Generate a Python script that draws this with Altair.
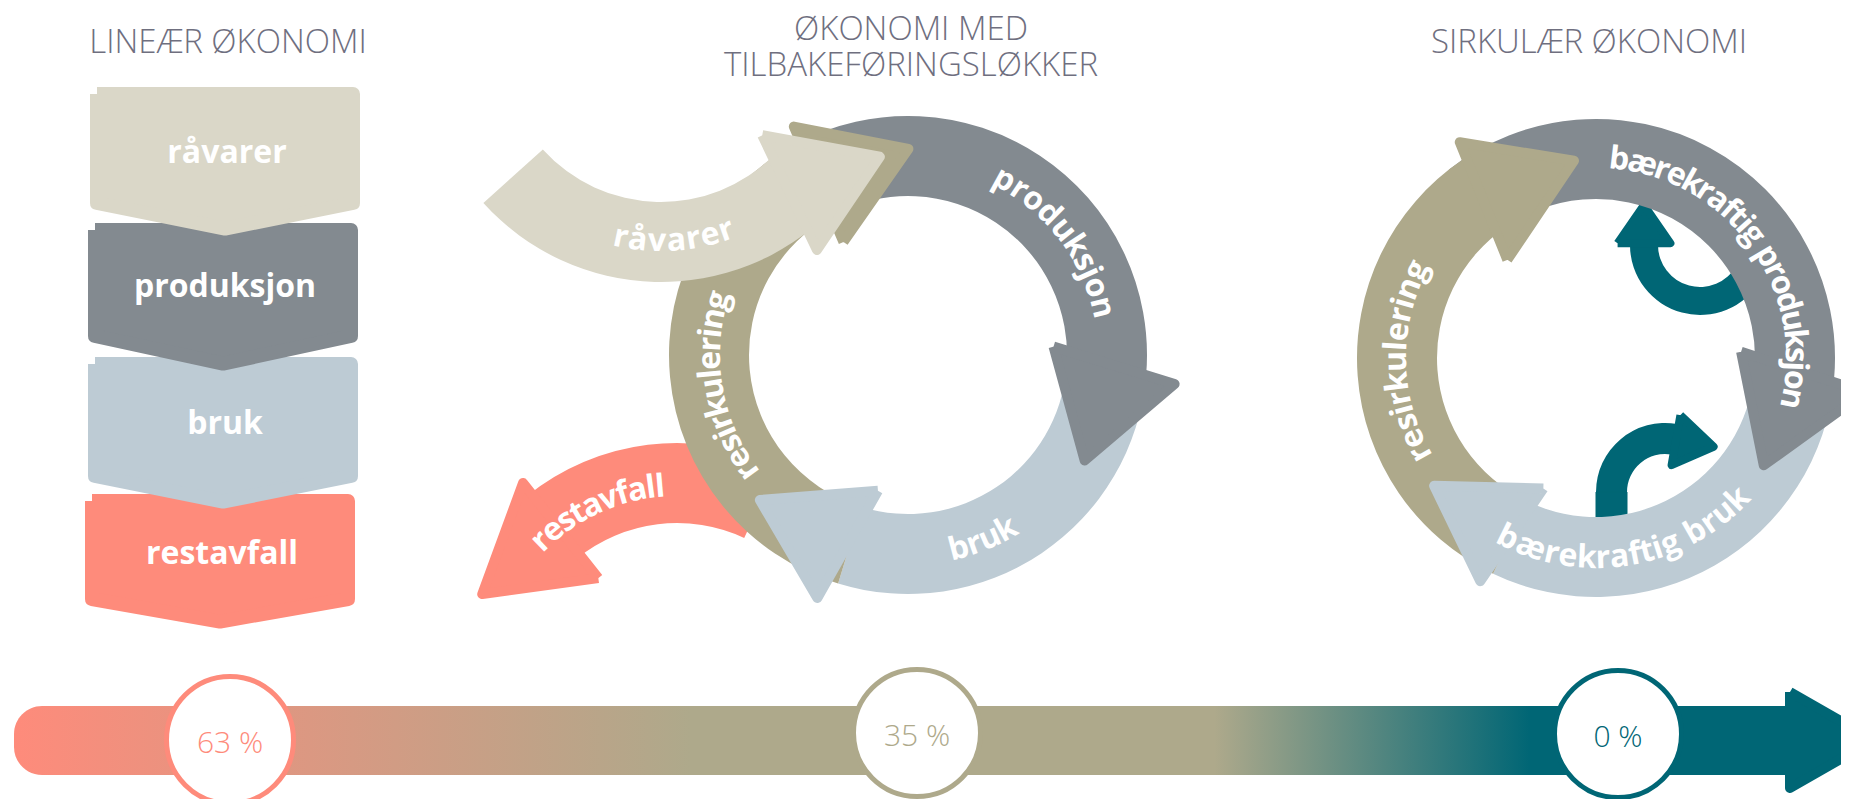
import math
import altair as alt
import pandas as pd

# ---------------- chart values ----------------
titles = ["LINEÆR ØKONOMI", "ØKONOMI MED\nTILBAKEFØRINGSLØKKER", "SIRKULÆR ØKONOMI"]
linear_steps = ["råvarer", "produksjon", "bruk", "restavfall"]
loop_stages = ["produksjon", "bruk", "resirkulering"]
loop_in = "råvarer"
loop_out = "restavfall"
circular_stages = ["bærekraftig produksjon", "bærekraftig bruk", "resirkulering"]
residual_waste = [63, 35, 0]          # percent restavfall
pct_labels = [f"{v} %" for v in residual_waste]

# ---------------- colours ----------------
BEIGE, GRAY, BLUE, SALMON = "#dad7c8", "#838a90", "#bdcbd4", "#fe8b7b"
OLIVE, TEAL, TITLE = "#aea98b", "#006675", "#6f6f7f"
FONT = "Open Sans"

# ---------------- layout ----------------
W, H = 1833, 791
OX = OY = 8
XS = alt.Scale(domain=[OX, OX + W], nice=False, zero=False)
YS = alt.Scale(domain=[OY, OY + H], nice=False, zero=False, reverse=True)


def X(f="x"):
    return alt.X(f"{f}:Q", scale=XS, axis=None)


def Y(f="y"):
    return alt.Y(f"{f}:Q", scale=YS, axis=None)


def polar(c, th, r):
    t = math.radians(th)
    return (c[0] + r * math.sin(t), c[1] - r * math.cos(t))


def inset(pts, d):
    cx = sum(p[0] for p in pts) / len(pts)
    cy = sum(p[1] for p in pts) / len(pts)
    out = []
    for x, y in pts:
        dx, dy = cx - x, cy - y
        n = math.hypot(dx, dy)
        out.append((x + dx / n * d, y + dy / n * d))
    return out


layers = []


def add_poly(pts, color, sw=10, shrink=True):
    if shrink:
        pts = inset(pts, sw / 2)
    rows = [{"k": i, "x": x, "y": y} for i, (x, y) in enumerate(pts + [pts[0]])]
    layers.append(
        alt.Chart(pd.DataFrame(rows))
        .mark_line(fill=color, stroke=color, strokeWidth=sw, strokeJoin="round")
        .encode(x=X(), y=Y(), order=alt.Order("k:Q"))
    )


def add_arcs(c, segs, r_out, r_in):
    rows = [{"cx": c[0], "cy": c[1], "t0": math.radians(a), "t1": math.radians(b), "col": col}
            for a, b, col in segs]
    layers.append(
        alt.Chart(pd.DataFrame(rows))
        .mark_arc(radius=r_out, radius2=r_in)
        .encode(x=X("cx"), y=Y("cy"),
                theta=alt.Theta("t0:Q", scale=None, stack=False),
                theta2=alt.Theta2("t1:Q"),
                color=alt.Color("col:N", scale=None))
    )


def polar_poly(c, verts):
    return [polar(c, th, r) for th, r in verts]


def arrow_tip(c, th, rm, hw, L):
    t = math.radians(th)
    u = (math.sin(t), -math.cos(t))
    tg = (math.cos(t), math.sin(t))
    b = (c[0] + rm * u[0], c[1] + rm * u[1])
    return [(b[0] + hw * u[0], b[1] + hw * u[1]),
            (b[0] + L * tg[0], b[1] + L * tg[1]),
            (b[0] - hw * u[0], b[1] - hw * u[1])]


CW = {"a": .60, "b": .63, "d": .63, "e": .59, "f": .37, "g": .56, "i": .29, "j": .29,
      "k": .58, "l": .29, "n": .64, "o": .61, "p": .63, "r": .43, "s": .48, "t": .40,
      "u": .64, "v": .56, "æ": .93, "å": .60, " ": .26}
arc_rows = []


def arc_text(label, c, th_first, th_last, r, inward=False):
    ws = [CW.get(ch, .58) for ch in label]
    cum, s = [], 0
    for w in ws:
        cum.append(s + w / 2)
        s += w
    span = cum[-1] - cum[0]
    for ch, p in zip(label, cum):
        if ch == " ":
            continue
        th = th_first + (th_last - th_first) * (p - cum[0]) / span
        x, y = polar(c, th, r)
        rot = (th - 180) if inward else th
        arc_rows.append({"x": x, "y": y, "t": ch, "rot": rot % 360})


# ---------- bottom progress bar ----------
bar = pd.DataFrame([{"x": 14, "x2": 1795, "y": 706, "y2": 775}])
grad = alt.Gradient(
    gradient="linear",
    stops=[alt.GradientStop(color=SALMON, offset=0),
           alt.GradientStop(color=OLIVE, offset=0.38),
           alt.GradientStop(color=OLIVE, offset=0.674),
           alt.GradientStop(color=TEAL, offset=0.851),
           alt.GradientStop(color=TEAL, offset=1)],
    x1=0, x2=1, y1=0, y2=0)
layers.append(
    alt.Chart(bar).mark_rect(color=grad, cornerRadiusTopLeft=28, cornerRadiusBottomLeft=28)
    .encode(x=X(), x2=alt.X2("x2:Q"), y=Y(), y2=alt.Y2("y2:Q"))
)
add_poly([(1790, 692), (1874, 740), (1790, 788)], TEAL, sw=10, shrink=False)

circ = pd.DataFrame({
    "x": [230, 917, 1618], "y": [740, 733, 734],
    "ty": [744, 737, 738],
    "col": [SALMON, OLIVE, TEAL], "t": pct_labels})
layers.append(
    alt.Chart(circ).mark_circle(fill="white", strokeWidth=5, opacity=1, fillOpacity=1,
                                size=(2 * 63.5) ** 2)
    .encode(x=X(), y=Y(), stroke=alt.Stroke("col:N", scale=None))
)
layers.append(
    alt.Chart(circ).mark_text(font=FONT, fontSize=30, fontWeight=300, align="center", baseline="middle")
    .encode(x=X(), y=Y("ty"), text="t:N", color=alt.Color("col:N", scale=None))
)

# ---------- linear economy: chevron boxes ----------
boxes = [  # x0, x1, top, side bottom, point
    (90, 360, 87, 210, 237),
    (88, 358, 223, 343, 372),
    (88, 358, 357, 483, 510),
    (85, 355, 494, 606, 630),
]
box_cols = [BEIGE, GRAY, BLUE, SALMON]
d = 7
for (x0, x1, top, side, pt), col in reversed(list(zip(boxes, box_cols))):
    xc = (x0 + x1) / 2
    add_poly([(x0 + d, top + d), (x1 - d, top + d), (x1 - d, side - d),
              (xc, pt - d * 1.2), (x0 + d, side - d)], col, sw=14, shrink=False)
box_lab = pd.DataFrame({
    "x": [(b[0] + b[1]) / 2 + 2 for b in boxes],
    "y": [(b[2] + b[3]) / 2 + 4 for b in boxes],
    "t": linear_steps})
layers.append(
    alt.Chart(box_lab).mark_text(font=FONT, fontSize=32, fontWeight="bold", color="white",
                                 align="center", baseline="middle")
    .encode(x=X(), y=Y(), text="t:N")
)

# ---------- economy with feedback loops ----------
CM = (908, 355)
CB = (661, 43)
CS = (677, 682)
RO, RI = 239, 159
add_arcs(CS, [(-39, 25, SALMON)], RO, RI)
add_poly(polar_poly(CS, [(-36, 126), (-37.2, 256), (-66.9, 216)]), SALMON)
add_arcs(CM, [(-28, 95, GRAY), (95, 197, BLUE), (197, 332.5, OLIVE)], RO, RI)
add_poly(polar_poly(CM, [(85.2, 142.5), (95.9, 273), (122.2, 207)]), GRAY)
add_poly(polar_poly(CM, [(191, 135.5), (200.1, 264), (226.9, 209)]), BLUE)
add_poly(polar_poly(CM, [(-31, 126), (-27, 260), (1.4, 208)]), OLIVE)
add_arcs(CB, [(135, 228, BEIGE)], RO, RI)
add_poly(polar_poly(CB, [(132.5, 132), (143.7, 263), (116.6, 250)]), BEIGE)

arc_text(loop_stages[0], CM, 28.8, 76.2, 200)
arc_text(loop_stages[1], CM, 165.3, 150.5, 200, inward=True)
arc_text(loop_stages[2], CM, 234, 286, 198)
arc_text(loop_in, CB, 191.7, 160.8, 198, inward=True)
arc_text(loop_out, CS, -44, -5, 196)

# ---------- circular economy ----------
CR = (1596, 358)
TU, TL = (1700, 245), (1665, 492)
add_arcs(TU, [(120, 270, TEAL)], 70, 42)
add_poly(arrow_tip(TU, 270, 56, 30, 44), TEAL, sw=8)
add_arcs(TL, [(270, 370, TEAL)], 69, 38)
add_poly([(1596, 492), (1627, 492), (1627, 535), (1596, 535)], TEAL, sw=1, shrink=False)
add_poly(arrow_tip(TL, 370, 53, 29, 44), TEAL, sw=8)

add_arcs(CR, [(-38, 95, GRAY), (95, 205.5, BLUE), (205.5, 326, OLIVE)], RO, RI)
add_poly(polar_poly(CR, [(-43.7, 129), (-32.6, 260), (-5, 200)]), OLIVE)
add_poly(polar_poly(CR, [(86, 142), (97, 276), (124, 200)]), GRAY)
add_poly(polar_poly(CR, [(200.6, 137), (207, 256), (233, 208)]), BLUE)

arc_text(circular_stages[0], CR, 6.7, 101.7, 200)
arc_text(circular_stages[1], CR, 206.2, 134.8, 200, inward=True)
arc_text(circular_stages[2], CR, 241.4, 296, 200)

layers.append(
    alt.Chart(pd.DataFrame(arc_rows)).mark_text(font=FONT, fontSize=32, fontWeight="bold", color="white",
                                                align="center", baseline="middle")
    .encode(x=X(), y=Y(), text="t:N", angle=alt.Angle("rot:Q", scale=None))
)

# ---------- titles ----------
tt = pd.DataFrame({"x": [228, 911, 1589], "y": [43, 30, 43], "t": titles})
layers.append(
    alt.Chart(tt).mark_text(font=FONT, fontSize=33, fontWeight=300, color=TITLE,
                            align="center", baseline="middle", lineBreak="\n", lineHeight=36)
    .encode(x=X(), y=Y(), text="t:N")
)

chart = (
    alt.layer(*layers)
    .properties(width=W, height=H, padding=0, autosize=alt.AutoSizeParams(type="none"),
                background="white")
    .configure_view(stroke=None)
)
chart.save("out.html", embed_options={"renderer": "svg", "actions": False})
